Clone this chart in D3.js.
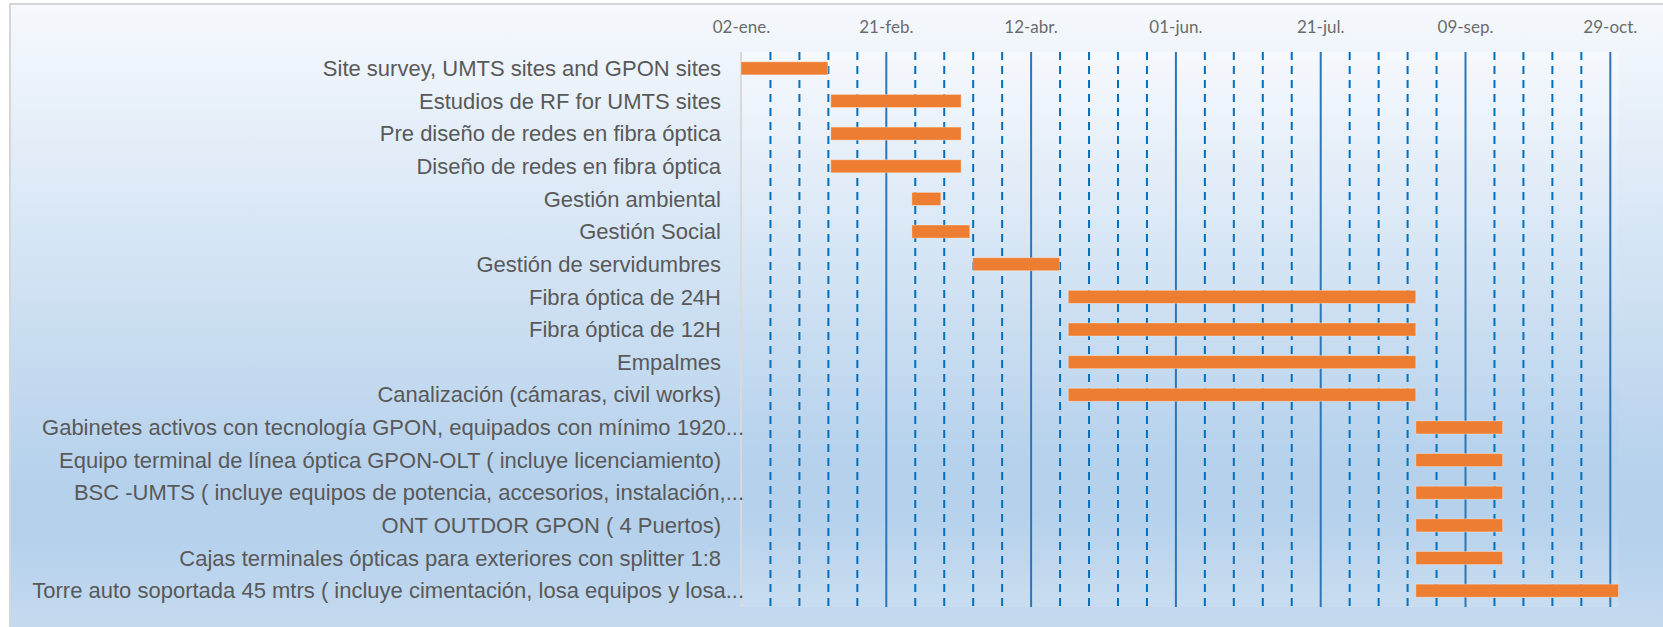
<!DOCTYPE html>
<html>
<head>
<meta charset="utf-8">
<script src="https://cdn.jsdelivr.net/npm/d3@7"></script>
<style>
  body { margin: 0; background: #fff; }
  .yAxis text { font-family: "Liberation Sans", Arial, sans-serif; font-size: 22px; fill: #595959; }
  .xAxis text { font-family: Lato, "Open Sans", sans-serif; font-size: 17px; fill: #6b6b6b; }
</style>
</head>
<body>
<div id="chart"></div>
<script>
/* DATA */
const tasks = [
  "Site survey, UMTS sites and GPON sites",
  "Estudios de RF  for UMTS sites",
  "Pre diseño de redes en fibra óptica",
  "Diseño de redes en fibra óptica",
  "Gestión ambiental",
  "Gestión Social",
  "Gestión de servidumbres",
  "Fibra óptica de 24H",
  "Fibra óptica de 12H",
  "Empalmes",
  "Canalización (cámaras, civil works)",
  "Gabinetes activos con tecnología GPON, equipados con mínimo 1920...",
  "Equipo terminal de línea óptica GPON-OLT ( incluye licenciamiento)",
  "BSC -UMTS ( incluye equipos de potencia, accesorios, instalación,...",
  "ONT OUTDOR GPON ( 4 Puertos)",
  "Cajas terminales ópticas para exteriores con splitter 1:8",
  "Torre auto soportada 45 mtrs ( incluye cimentación, losa equipos y losa..."
];
const startDates = [
  "2019-01-02", "2019-02-02", "2019-02-02", "2019-02-02", "2019-03-02", "2019-03-02",
  "2019-03-23", "2019-04-25", "2019-04-25", "2019-04-25", "2019-04-25", "2019-08-23",
  "2019-08-23", "2019-08-23", "2019-08-23", "2019-08-23", "2019-08-23"
];
const endDates = [
  "2019-02-01", "2019-03-19", "2019-03-19", "2019-03-19", "2019-03-12", "2019-03-22",
  "2019-04-22", "2019-08-23", "2019-08-23", "2019-08-23", "2019-08-23", "2019-09-22",
  "2019-09-22", "2019-09-22", "2019-09-22", "2019-09-22", "2019-11-01"
];
const tickDates = ["2019-01-02", "2019-02-21", "2019-04-12", "2019-06-01", "2019-07-21", "2019-09-09", "2019-10-29"];
const tickLabels = ["02-ene.", "21-feb.", "12-abr.", "01-jun.", "21-jul.", "09-sep.", "29-oct."];
const axisStart = "2019-01-02", axisEnd = "2019-11-01";

/* CONSTANTS */
const width = 1663,
  height = 627,
  margin = { top: 52, bottom: 20, left: 741, right: 44.5 };
const plotH = height - margin.top - margin.bottom;
const parseDate = d3.timeParse("%Y-%m-%d");

const data = tasks.map((t, i) => ({
  task: t,
  start: parseDate(startDates[i]),
  end: parseDate(endDates[i])
}));

// + SCALES
const x0 = parseDate(axisStart);
const xScale = d3.scaleTime()
  .domain([x0, parseDate(axisEnd)])
  .range([margin.left, width - margin.right]);

const yScale = d3.scaleBand()
  .domain(tasks)
  .range([margin.top, height - margin.bottom])
  .paddingInner(0.6)
  .paddingOuter(0.3);

// gridlines: every 10 days minor (dashed), every 50 days major (solid)
const minorDays = d3.range(10, 303, 10).filter(d => d % 50 !== 0).map(d => d3.timeDay.offset(x0, d));
const majorDays = d3.range(50, 303, 50).map(d => d3.timeDay.offset(x0, d));

// + SVG
const svg = d3.select("#chart")
  .append("svg")
  .attr("width", width)
  .attr("height", height);

const grad = svg.append("defs").append("linearGradient")
  .attr("id", "bg")
  .attr("x1", 0).attr("y1", 0).attr("x2", 0).attr("y2", 1);
grad.selectAll("stop")
  .data([[0, "#f6f9fd"], [0.74, "#b5d1ec"], [0.83, "#b5d1ec"], [1, "#c9ddf0"]])
  .join("stop")
  .attr("offset", d => d[0])
  .attr("stop-color", d => d[1]);

// chart area + plot area
svg.append("rect")
  .attr("x", 10).attr("y", 4)
  .attr("width", width).attr("height", height + 20)
  .attr("fill", "url(#bg)")
  .attr("stroke", "#d6d6d6")
  .attr("stroke-width", 2);

svg.append("rect")
  .attr("x", margin.left).attr("y", margin.top)
  .attr("width", width - margin.right - margin.left).attr("height", plotH)
  .attr("fill", "url(#bg)");

// + GRIDLINES
svg.append("g")
  .attr("class", "minor")
  .attr("transform", `translate(0, ${margin.top})`)
  .call(d3.axisBottom(xScale).tickValues(minorDays).tickSize(plotH).tickFormat(""))
  .call(g => g.select(".domain").remove())
  .selectAll("line")
  .attr("stroke", "#0070c0")
  .attr("stroke-width", 2)
  .attr("stroke-dasharray", "8,6");

svg.append("g")
  .attr("class", "major")
  .attr("transform", `translate(0, ${margin.top})`)
  .call(d3.axisBottom(xScale).tickValues(majorDays).tickSize(plotH).tickFormat(""))
  .call(g => g.select(".domain").remove())
  .selectAll("line")
  .attr("stroke", "#2e75b6")
  .attr("stroke-width", 2);

// category axis line
svg.append("line")
  .attr("x1", margin.left).attr("x2", margin.left)
  .attr("y1", margin.top).attr("y2", height - margin.bottom)
  .attr("stroke", "#d9d9d9")
  .attr("stroke-width", 2);

// + AXES
svg.append("g")
  .attr("class", "xAxis")
  .attr("transform", `translate(0, 33)`)
  .call(d3.axisTop(xScale)
    .tickValues(tickDates.map(parseDate))
    .tickFormat((d, i) => tickLabels[i])
    .tickSize(0)
    .tickPadding(0))
  .call(g => g.select(".domain").remove());

// long labels are cut with "..." and run up to the axis line
svg.append("g")
  .attr("class", "yAxis")
  .attr("transform", `translate(${margin.left}, 0)`)
  .call(d3.axisLeft(yScale).tickSize(0).tickPadding(20))
  .call(g => g.select(".domain").remove())
  .selectAll("text")
  .attr("dy", "0.35em")
  .attr("x", d => d.endsWith("...") ? 3 : -20);

// + BARS
svg.selectAll(".bar")
  .data(data)
  .join("rect")
  .attr("class", "bar")
  .attr("x", d => xScale(d.start))
  .attr("y", d => yScale(d.task))
  .attr("width", d => xScale(d.end) - xScale(d.start))
  .attr("height", yScale.bandwidth())
  .attr("fill", "#ed7d31")
  .attr("stroke", "rgba(255,255,255,0.35)")
  .attr("stroke-width", 1);
</script>
</body>
</html>
